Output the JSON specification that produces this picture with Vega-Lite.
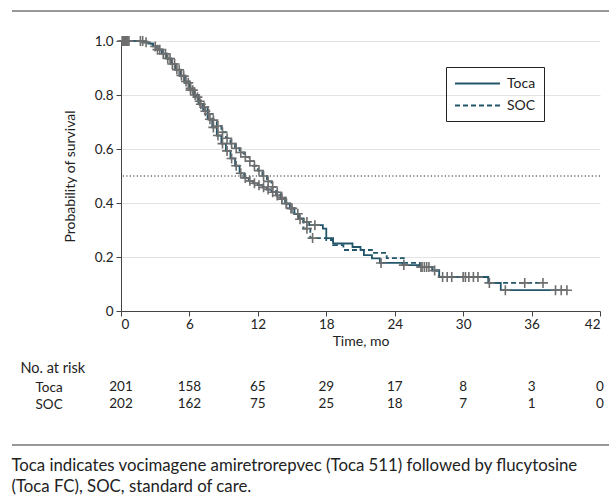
{
  "$schema": "https://vega.github.io/schema/vega-lite/v6.json",
  "width": 479,
  "height": 270,
  "autosize": {"type": "none"},
  "padding": {"left": 121, "top": 41, "right": 9, "bottom": 193},
  "background": "white",
  "config": {
    "font": "Lato",
    "view": {"stroke": null},
    "axis": {"labelFont": "Lato", "titleFont": "Lato", "labelColor": "#222", "titleColor": "#222", "labelFontSize": 13.5, "titleFontSize": 14, "titleFontWeight": "normal", "domainColor": "#444", "tickColor": "#444"},
    "legend": {"labelFont": "Lato"}
  },
  "title": {
    "text": ["Toca indicates vocimagene amiretrorepvec (Toca 511) followed by flucytosine", "(Toca FC), SOC, standard of care."],
    "orient": "bottom", "anchor": "start", "frame": "bounds", "offset": 12,
    "font": "Lato", "fontSize": 16.8, "fontWeight": "normal", "color": "#222", "lineHeight": 21
  },
  "datasets": {
    "km": [
      {"group": "Toca", "t": 0, "s": 1}, {"group": "Toca", "t": 2.0, "s": 0.995}, {"group": "Toca", "t": 2.4, "s": 0.99}, {"group": "Toca", "t": 2.8, "s": 0.98}, {"group": "Toca", "t": 3.2, "s": 0.968}, {"group": "Toca", "t": 3.6, "s": 0.953}, {"group": "Toca", "t": 4.0, "s": 0.935}, {"group": "Toca", "t": 4.4, "s": 0.915}, {"group": "Toca", "t": 4.8, "s": 0.893}, {"group": "Toca", "t": 5.2, "s": 0.87}, {"group": "Toca", "t": 5.6, "s": 0.845}, {"group": "Toca", "t": 6.0, "s": 0.818}, {"group": "Toca", "t": 6.4, "s": 0.792}, {"group": "Toca", "t": 6.8, "s": 0.766}, {"group": "Toca", "t": 7.2, "s": 0.74}, {"group": "Toca", "t": 7.6, "s": 0.71}, {"group": "Toca", "t": 8.0, "s": 0.68}, {"group": "Toca", "t": 8.4, "s": 0.65}, {"group": "Toca", "t": 8.8, "s": 0.62}, {"group": "Toca", "t": 9.2, "s": 0.593}, {"group": "Toca", "t": 9.6, "s": 0.565}, {"group": "Toca", "t": 10.0, "s": 0.538}, {"group": "Toca", "t": 10.4, "s": 0.51}, {"group": "Toca", "t": 10.8, "s": 0.493}, {"group": "Toca", "t": 11.2, "s": 0.482}, {"group": "Toca", "t": 11.6, "s": 0.473}, {"group": "Toca", "t": 12.0, "s": 0.466}, {"group": "Toca", "t": 12.4, "s": 0.458}, {"group": "Toca", "t": 12.8, "s": 0.45}, {"group": "Toca", "t": 13.2, "s": 0.44}, {"group": "Toca", "t": 13.6, "s": 0.428}, {"group": "Toca", "t": 14.0, "s": 0.414}, {"group": "Toca", "t": 14.4, "s": 0.398}, {"group": "Toca", "t": 14.8, "s": 0.38}, {"group": "Toca", "t": 15.2, "s": 0.36}, {"group": "Toca", "t": 15.6, "s": 0.343}, {"group": "Toca", "t": 16.0, "s": 0.33}, {"group": "Toca", "t": 16.5, "s": 0.318}, {"group": "Toca", "t": 17.7, "s": 0.305}, {"group": "Toca", "t": 18.0, "s": 0.27}, {"group": "Toca", "t": 18.6, "s": 0.25}, {"group": "Toca", "t": 20.3, "s": 0.237}, {"group": "Toca", "t": 21.0, "s": 0.226}, {"group": "Toca", "t": 21.3, "s": 0.207}, {"group": "Toca", "t": 22.0, "s": 0.195}, {"group": "Toca", "t": 22.7, "s": 0.178}, {"group": "Toca", "t": 24.7, "s": 0.17}, {"group": "Toca", "t": 26.2, "s": 0.163}, {"group": "Toca", "t": 27.3, "s": 0.15}, {"group": "Toca", "t": 27.9, "s": 0.126}, {"group": "Toca", "t": 32.2, "s": 0.104}, {"group": "Toca", "t": 33.3, "s": 0.077}, {"group": "Toca", "t": 39.1, "s": 0.077},
      {"group": "SOC", "t": 0, "s": 1}, {"group": "SOC", "t": 2.0, "s": 0.995}, {"group": "SOC", "t": 2.4, "s": 0.99}, {"group": "SOC", "t": 2.8, "s": 0.98}, {"group": "SOC", "t": 3.2, "s": 0.968}, {"group": "SOC", "t": 3.6, "s": 0.953}, {"group": "SOC", "t": 4.0, "s": 0.935}, {"group": "SOC", "t": 4.4, "s": 0.915}, {"group": "SOC", "t": 4.8, "s": 0.894}, {"group": "SOC", "t": 5.2, "s": 0.872}, {"group": "SOC", "t": 5.6, "s": 0.85}, {"group": "SOC", "t": 6.0, "s": 0.825}, {"group": "SOC", "t": 6.4, "s": 0.8}, {"group": "SOC", "t": 6.8, "s": 0.777}, {"group": "SOC", "t": 7.2, "s": 0.755}, {"group": "SOC", "t": 7.6, "s": 0.73}, {"group": "SOC", "t": 8.0, "s": 0.707}, {"group": "SOC", "t": 8.4, "s": 0.685}, {"group": "SOC", "t": 8.8, "s": 0.662}, {"group": "SOC", "t": 9.2, "s": 0.64}, {"group": "SOC", "t": 9.6, "s": 0.62}, {"group": "SOC", "t": 10.0, "s": 0.603}, {"group": "SOC", "t": 10.4, "s": 0.587}, {"group": "SOC", "t": 10.8, "s": 0.571}, {"group": "SOC", "t": 11.2, "s": 0.555}, {"group": "SOC", "t": 11.6, "s": 0.538}, {"group": "SOC", "t": 12.0, "s": 0.52}, {"group": "SOC", "t": 12.4, "s": 0.5}, {"group": "SOC", "t": 12.8, "s": 0.48}, {"group": "SOC", "t": 13.2, "s": 0.46}, {"group": "SOC", "t": 13.6, "s": 0.44}, {"group": "SOC", "t": 14.0, "s": 0.42}, {"group": "SOC", "t": 14.4, "s": 0.398}, {"group": "SOC", "t": 14.8, "s": 0.38}, {"group": "SOC", "t": 15.2, "s": 0.36}, {"group": "SOC", "t": 15.6, "s": 0.34}, {"group": "SOC", "t": 16.0, "s": 0.305}, {"group": "SOC", "t": 16.6, "s": 0.27}, {"group": "SOC", "t": 18.0, "s": 0.263}, {"group": "SOC", "t": 18.6, "s": 0.244}, {"group": "SOC", "t": 19.5, "s": 0.226}, {"group": "SOC", "t": 22.0, "s": 0.215}, {"group": "SOC", "t": 23.3, "s": 0.196}, {"group": "SOC", "t": 24.8, "s": 0.178}, {"group": "SOC", "t": 26.2, "s": 0.163}, {"group": "SOC", "t": 27.3, "s": 0.15}, {"group": "SOC", "t": 27.9, "s": 0.126}, {"group": "SOC", "t": 32.2, "s": 0.104}, {"group": "SOC", "t": 37.0, "s": 0.104}
    ],
    "censor": [
      {"group": "Toca", "t": 0.1, "s": 1}, {"group": "Toca", "t": 0.3, "s": 1}, {"group": "Toca", "t": 0.5, "s": 1}, {"group": "Toca", "t": 0.7, "s": 1}, {"group": "Toca", "t": 1.7, "s": 1}, {"group": "Toca", "t": 3.0, "s": 0.98}, {"group": "Toca", "t": 3.4, "s": 0.968}, {"group": "Toca", "t": 3.9, "s": 0.953}, {"group": "Toca", "t": 4.3, "s": 0.935}, {"group": "Toca", "t": 4.7, "s": 0.915}, {"group": "Toca", "t": 5.1, "s": 0.893}, {"group": "Toca", "t": 5.5, "s": 0.87}, {"group": "Toca", "t": 5.9, "s": 0.845}, {"group": "Toca", "t": 6.1, "s": 0.818}, {"group": "Toca", "t": 6.3, "s": 0.818}, {"group": "Toca", "t": 6.7, "s": 0.792}, {"group": "Toca", "t": 7.0, "s": 0.766}, {"group": "Toca", "t": 7.4, "s": 0.74}, {"group": "Toca", "t": 7.8, "s": 0.71}, {"group": "Toca", "t": 8.1, "s": 0.68}, {"group": "Toca", "t": 8.5, "s": 0.65}, {"group": "Toca", "t": 8.9, "s": 0.62}, {"group": "Toca", "t": 9.3, "s": 0.593}, {"group": "Toca", "t": 9.7, "s": 0.565}, {"group": "Toca", "t": 10.1, "s": 0.538}, {"group": "Toca", "t": 10.5, "s": 0.51}, {"group": "Toca", "t": 10.9, "s": 0.493}, {"group": "Toca", "t": 11.3, "s": 0.482}, {"group": "Toca", "t": 11.7, "s": 0.473}, {"group": "Toca", "t": 12.1, "s": 0.466}, {"group": "Toca", "t": 12.5, "s": 0.458}, {"group": "Toca", "t": 12.9, "s": 0.45}, {"group": "Toca", "t": 13.3, "s": 0.44}, {"group": "Toca", "t": 13.7, "s": 0.428}, {"group": "Toca", "t": 14.1, "s": 0.414}, {"group": "Toca", "t": 14.5, "s": 0.398}, {"group": "Toca", "t": 14.9, "s": 0.38}, {"group": "Toca", "t": 15.5, "s": 0.36}, {"group": "Toca", "t": 16.3, "s": 0.33}, {"group": "Toca", "t": 17.0, "s": 0.318}, {"group": "Toca", "t": 22.8, "s": 0.178}, {"group": "Toca", "t": 24.8, "s": 0.17}, {"group": "Toca", "t": 26.3, "s": 0.163}, {"group": "Toca", "t": 26.6, "s": 0.163}, {"group": "Toca", "t": 27.0, "s": 0.163}, {"group": "Toca", "t": 28.2, "s": 0.126}, {"group": "Toca", "t": 28.6, "s": 0.126}, {"group": "Toca", "t": 29.0, "s": 0.126}, {"group": "Toca", "t": 30.2, "s": 0.126}, {"group": "Toca", "t": 30.5, "s": 0.126}, {"group": "Toca", "t": 30.9, "s": 0.126}, {"group": "Toca", "t": 31.3, "s": 0.126}, {"group": "Toca", "t": 32.3, "s": 0.104}, {"group": "Toca", "t": 33.7, "s": 0.077}, {"group": "Toca", "t": 38.1, "s": 0.077}, {"group": "Toca", "t": 38.6, "s": 0.077}, {"group": "Toca", "t": 39.1, "s": 0.077},
      {"group": "SOC", "t": 0.2, "s": 1}, {"group": "SOC", "t": 0.4, "s": 1}, {"group": "SOC", "t": 0.6, "s": 1}, {"group": "SOC", "t": 1.9, "s": 1}, {"group": "SOC", "t": 2.2, "s": 0.995}, {"group": "SOC", "t": 3.2, "s": 0.968}, {"group": "SOC", "t": 3.7, "s": 0.953}, {"group": "SOC", "t": 4.1, "s": 0.935}, {"group": "SOC", "t": 4.5, "s": 0.915}, {"group": "SOC", "t": 4.9, "s": 0.894}, {"group": "SOC", "t": 5.3, "s": 0.872}, {"group": "SOC", "t": 5.7, "s": 0.85}, {"group": "SOC", "t": 6.1, "s": 0.825}, {"group": "SOC", "t": 6.5, "s": 0.8}, {"group": "SOC", "t": 6.9, "s": 0.777}, {"group": "SOC", "t": 7.3, "s": 0.755}, {"group": "SOC", "t": 7.7, "s": 0.73}, {"group": "SOC", "t": 8.1, "s": 0.707}, {"group": "SOC", "t": 8.5, "s": 0.685}, {"group": "SOC", "t": 8.9, "s": 0.662}, {"group": "SOC", "t": 9.3, "s": 0.64}, {"group": "SOC", "t": 9.7, "s": 0.62}, {"group": "SOC", "t": 10.1, "s": 0.603}, {"group": "SOC", "t": 10.5, "s": 0.587}, {"group": "SOC", "t": 10.9, "s": 0.571}, {"group": "SOC", "t": 11.3, "s": 0.555}, {"group": "SOC", "t": 11.7, "s": 0.538}, {"group": "SOC", "t": 12.1, "s": 0.52}, {"group": "SOC", "t": 12.5, "s": 0.5}, {"group": "SOC", "t": 12.9, "s": 0.48}, {"group": "SOC", "t": 13.3, "s": 0.46}, {"group": "SOC", "t": 13.7, "s": 0.44}, {"group": "SOC", "t": 14.1, "s": 0.42}, {"group": "SOC", "t": 14.5, "s": 0.398}, {"group": "SOC", "t": 15.0, "s": 0.38}, {"group": "SOC", "t": 15.7, "s": 0.34}, {"group": "SOC", "t": 16.3, "s": 0.305}, {"group": "SOC", "t": 16.8, "s": 0.27}, {"group": "SOC", "t": 26.4, "s": 0.163}, {"group": "SOC", "t": 26.8, "s": 0.163}, {"group": "SOC", "t": 27.5, "s": 0.15}, {"group": "SOC", "t": 30.0, "s": 0.126}, {"group": "SOC", "t": 35.4, "s": 0.104}, {"group": "SOC", "t": 37.0, "s": 0.104}
    ],
    "risk": [
      {"group": "Toca", "t": 0, "n": 201}, {"group": "Toca", "t": 6, "n": 158}, {"group": "Toca", "t": 12, "n": 65}, {"group": "Toca", "t": 18, "n": 29}, {"group": "Toca", "t": 24, "n": 17}, {"group": "Toca", "t": 30, "n": 8}, {"group": "Toca", "t": 36, "n": 3}, {"group": "Toca", "t": 42, "n": 0},
      {"group": "SOC", "t": 0, "n": 202}, {"group": "SOC", "t": 6, "n": 162}, {"group": "SOC", "t": 12, "n": 75}, {"group": "SOC", "t": 18, "n": 25}, {"group": "SOC", "t": 24, "n": 18}, {"group": "SOC", "t": 30, "n": 7}, {"group": "SOC", "t": 36, "n": 1}, {"group": "SOC", "t": 42, "n": 0}
    ]
  },
  "layer": [
    {
      "layer": [
        {
          "data": {"values": [{"s": 0.5}]},
          "mark": {"type": "rule", "color": "#222", "strokeWidth": 1, "strokeDash": [1.2, 2.3]},
          "encoding": {
            "y": {"field": "s", "type": "quantitative"}
          }
        },
        {
          "data": {"name": "km"},
          "mark": {"type": "line", "interpolate": "step-after", "color": "#23566b", "strokeWidth": 1.8},
          "encoding": {
            "x": {"field": "t", "type": "quantitative", "scale": {"domain": [0, 42], "nice": false},
              "axis": {"values": [0, 6, 12, 18, 24, 30, 36, 42], "title": "Time, mo", "grid": false, "tickSize": 5, "labelPadding": 1, "titlePadding": 4}},
            "y": {"field": "s", "type": "quantitative", "scale": {"domain": [0, 1], "nice": false},
              "axis": {"values": [0, 0.2, 0.4, 0.6, 0.8, 1.0], "title": "Probability of survival", "grid": true, "gridColor": "#e3e3e3", "tickSize": 5, "labelPadding": 3, "titlePadding": 17,
                "labelExpr": "datum.value == 0 ? '0' : format(datum.value, '.1f')"}},
            "strokeDash": {"field": "group", "type": "nominal",
              "scale": {"domain": ["Toca", "SOC"], "range": [[1, 0], [5, 3]]},
              "legend": {"orient": "none", "legendX": 325, "legendY": 26, "title": null,
                "symbolType": "M-1,0H5", "symbolSize": 225, "symbolStrokeColor": "#23566b", "symbolStrokeWidth": 2, "symbolFillColor": "transparent",
                "labelOffset": 36, "labelFontSize": 14, "labelColor": "#222", "strokeColor": "#222", "padding": 8, "rowPadding": 6}}
          }
        },
        {
          "data": {"name": "censor"},
          "mark": {"type": "point", "shape": "M-1,0H1M0,-1V1", "size": 100, "filled": false, "color": "#6e6e6e", "strokeWidth": 1.6, "opacity": 1},
          "encoding": {
            "x": {"field": "t", "type": "quantitative"},
            "y": {"field": "s", "type": "quantitative"}
          }
        }
      ]
    },
    {
      "data": {"name": "risk"},
      "mark": {"type": "text", "fontSize": 13.5, "color": "#222", "baseline": "middle", "align": "center"},
      "encoding": {
        "x": {"field": "t", "type": "quantitative", "scale": {"domain": [0, 42], "nice": false}, "axis": null},
        "y": {"field": "group", "type": "nominal",
          "scale": {"type": "point", "domain": ["Toca", "SOC"], "range": [346, 363], "padding": 0},
          "axis": {"orient": "left", "domain": false, "ticks": false, "grid": false, "labelPadding": 86, "labelAlign": "left", "labelFontSize": 13.5,
            "title": "No. at risk", "titleAngle": 0, "titleAlign": "left", "titleBaseline": "middle", "titleX": -101, "titleY": 327, "titleFontSize": 14.5}},
        "text": {"field": "n", "type": "quantitative"}
      }
    },
    {
      "data": {"values": [{"edge": "top"}, {"edge": "foot"}]},
      "mark": {"type": "rule", "color": "#333", "strokeWidth": 1.2},
      "encoding": {
        "y": {"field": "edge", "type": "nominal", "scale": {"type": "point", "domain": ["top", "foot"], "range": [-30, 404], "padding": 0}, "axis": null},
        "x": {"datum": 0, "type": "quantitative", "scale": {"domain": [0, 1], "range": [-109, 488]}, "axis": null},
        "x2": {"datum": 1}
      }
    }
  ],
  "resolve": {"scale": {"x": "independent", "y": "independent"}}
}
